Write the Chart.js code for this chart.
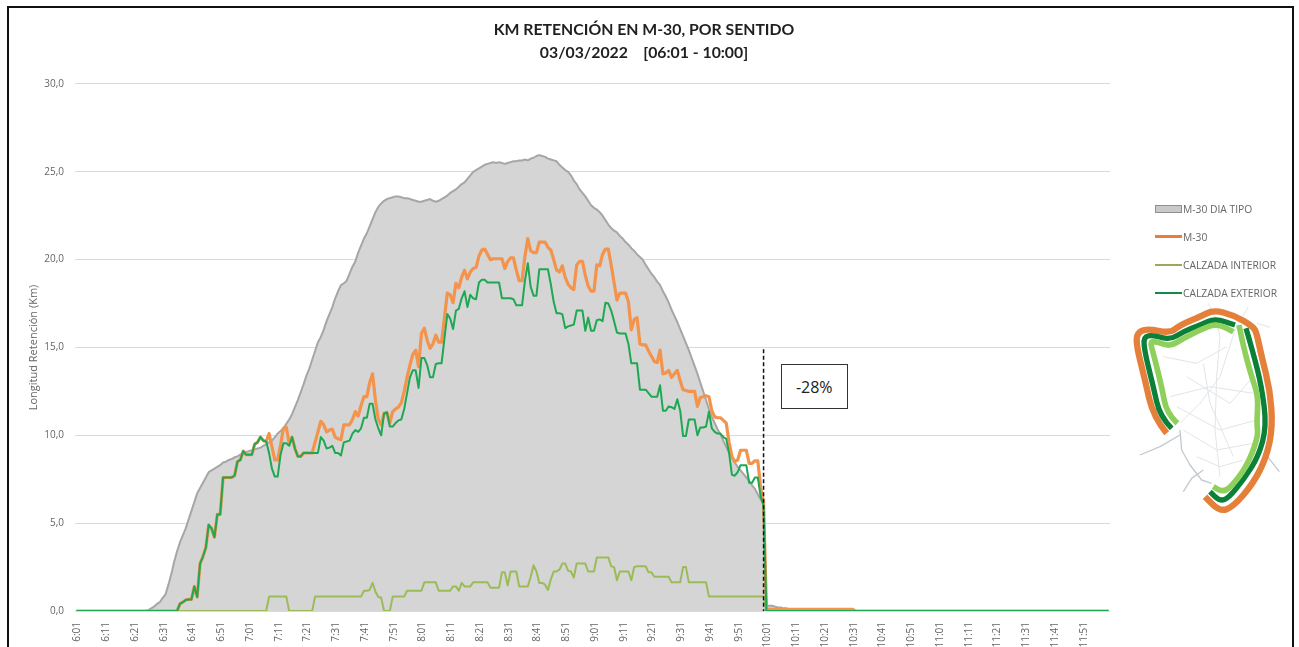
<!DOCTYPE html>
<html lang="es"><head><meta charset="utf-8">
<style>
html,body{margin:0;padding:0;background:#fff;width:1299px;height:647px;overflow:hidden}
#frame{position:absolute;left:7px;top:6px;width:1283px;height:650px;border:2.5px solid #111;box-sizing:content-box}
canvas{position:absolute;left:0;top:0}
#legend{position:absolute;left:1155px;top:200px;font:10.3px "Open Sans",sans-serif;color:#666}
.lg{position:absolute;left:0;white-space:nowrap;height:18px;line-height:18px;width:130px}
.lg i{position:absolute;left:0;width:27px;display:block;box-sizing:border-box}
.lg span{position:absolute;left:28px;top:0}
#box{position:absolute;left:781px;top:364px;width:64.5px;height:42.5px;border:1.5px solid #333;background:#fff;font:16px "Open Sans",sans-serif;color:#222;text-align:center;line-height:44px}
#map{position:absolute;left:1120px;top:190px}
</style>
<script src="https://cdn.jsdelivr.net/npm/chart.js@4/dist/chart.umd.min.js"></script>
</head><body>
<div id="frame"></div>
<canvas id="c" width="1299" height="647"></canvas>
<div id="legend"></div>
<div id="box">-28%</div>
<svg id="map" width="179" height="330" viewBox="0 0 537 990" fill="none" stroke-linejoin="round" stroke-linecap="butt">
<g stroke="#e1e4e8" stroke-width="3">
<polyline points="265,340 285,380 300,440 290,560 285,720 300,860"/>
<polyline points="385,350 365,385 345,420 300,560 240,640 180,700"/>
<polyline points="410,400 450,412"/>
<polyline points="130,500 230,520 320,470"/>
<polyline points="150,620 270,590 400,610"/>
<polyline points="170,650 300,720 410,690"/>
<polyline points="190,720 290,780 400,760"/>
<polyline points="250,520 270,640 340,800"/>
<polyline points="200,560 330,640 400,560"/>
<polyline points="230,800 300,830 370,810"/>
</g>
<g stroke="#c3c9d0" stroke-width="4">
<polyline points="180,720 185,780 210,825 245,870 275,880"/>
<polyline points="60,795 120,770 180,735"/>
<polyline points="190,905 215,865 250,840"/>
<polyline points="435,790 478,845"/>
</g>
<path id="mO" stroke="#E5803A" stroke-width="19"/>
<path id="mD1" stroke="#0A8038" stroke-width="16"/>
<path id="mD2" stroke="#0A8038" stroke-width="16"/>
<path id="mL1" stroke="#8FCF5B" stroke-width="17"/>
<path id="mL2" stroke="#8FCF5B" stroke-width="17"/>
</svg>
<script>
const titleLines = ['KM RETENCIÓN EN M-30, POR SENTIDO', '03/03/2022    [06:01 - 10:00]'];
const yAxisTitle = 'Longitud Retención (Km)';
const cutOffTime = '10:00';
const cutOffTop = 14.9;
const seriesNames = ['M-30 DIA TIPO', 'M-30', 'CALZADA INTERIOR', 'CALZADA EXTERIOR'];

const minutes = [];
for (let h = 6; h < 12; h++) for (let mm = 0; mm < 60; mm++) minutes.push(h + ':' + String(mm).padStart(2, '0'));
const categories = minutes.slice(1).concat(['12:00']);

const diaTipo = [
0,0,0,0,0,0,0,0,0,0,
0,0,0,0,0,0,0,0,0,0,
0,0,0,0,0,.05,.15,.25,.4,.5,
.75,.95,1.5,2.1,2.8,3.4,3.9,4.3,4.7,5.2,
5.7,6.2,6.7,7.0,7.3,7.6,7.9,8.0,8.1,8.2,
8.3,8.45,8.5,8.6,8.65,8.75,8.8,8.9,9.0,9.05,
9.1,9.15,9.2,9.25,9.3,9.4,9.5,9.6,9.7,9.9,
10.1,10.25,10.4,10.65,10.9,11.2,11.6,12.0,12.45,12.9,
13.4,13.8,14.3,14.8,15.3,15.6,16.0,16.5,16.9,17.3,
17.8,18.2,18.55,18.65,18.8,19.2,19.6,19.9,20.4,20.8,
21.2,21.5,21.9,22.3,22.7,23.0,23.2,23.35,23.45,23.5,
23.55,23.6,23.6,23.55,23.5,23.5,23.45,23.4,23.35,23.3,
23.3,23.35,23.4,23.45,23.35,23.3,23.35,23.45,23.55,23.65,
23.8,23.9,24.0,24.15,24.3,24.4,24.6,24.8,25.0,25.1,
25.2,25.3,25.4,25.45,25.5,25.55,25.5,25.55,25.5,25.45,
25.5,25.55,25.6,25.6,25.65,25.65,25.7,25.65,25.75,25.8,
25.9,25.95,25.9,25.85,25.75,25.7,25.65,25.6,25.4,25.25,
25.1,25.0,24.8,24.5,24.3,24.0,23.8,23.6,23.35,23.1,
22.95,22.85,22.7,22.5,22.25,22.0,21.8,21.65,21.55,21.35,
21.2,21.0,20.85,20.65,20.5,20.3,20.15,20.0,19.7,19.45,
19.2,19.0,18.75,18.55,18.2,17.9,17.55,17.15,16.8,16.45,
16.05,15.65,15.25,14.85,14.4,13.95,13.5,13.0,12.5,12.0,
11.5,11.05,10.7,10.35,10.05,9.7,9.35,9.0,8.75,8.45,
8.2,8.0,7.8,7.6,7.4,7.15,6.95,6.65,6.35,6.1,
.3,.3,.3,.25,.2,.2,.15,.15,.1,.1,
.1,.1,.1,.1,.1,.1,.1,.1,.1,.1,
.1,.1,.1,.1,.1,.1,.1,.1,.1,.1,
.1,0,0,0,0,0,0,0,0,0,
0,0,0,0,0,0,0,0,0,0,
0,0,0,0,0,0,0,0,0,0,
0,0,0,0,0,0,0,0,0,0,
0,0,0,0,0,0,0,0,0,0,
0,0,0,0,0,0,0,0,0,0,
0,0,0,0,0,0,0,0,0,0,
0,0,0,0,0,0,0,0,0,0,
0,0,0,0,0,0,0,0,0,0];

const m30 = [
0,0,0,0,0,0,0,0,0,0,
0,0,0,0,0,0,0,0,0,0,
0,0,0,0,0,0,0,0,0,0,
0,0,0,0,0,0,.4,.5,.63,.66,
.66,1.4,.8,2.7,3.1,3.6,4.9,4.7,4.2,5.5,
5.5,7.6,7.6,7.6,7.6,7.7,8.5,8.6,9.1,8.9,
8.9,8.9,9.5,9.6,9.9,9.7,9.65,10.1,9.35,8.6,
8.6,9.45,10.4,10.45,9.55,9.9,9.25,8.8,8.8,9,
9,9,9,9.6,10.2,10.8,10.6,10.2,10.3,10.35,
9.9,9.8,9.75,10.6,10.6,10.6,10.9,11.35,11.1,11.7,
12.2,12.2,13.0,13.5,12.0,10.9,10.6,11.25,11.3,10.7,
11.35,11.5,11.6,11.85,12.5,13.3,14.0,14.6,14.85,13.9,
15.8,16.1,15.4,14.95,15.2,15.7,15.3,15.3,16.7,18.1,
18.0,17.55,18.65,18.4,19.0,19.4,18.9,19.3,19.5,19.55,
20.2,20.55,20.6,20.3,20,20.05,20.05,20.05,20.05,19.5,
19.9,20.1,20.1,19.4,18.8,18.8,20.2,21.2,20.5,20.4,
20.4,21.0,21.0,21.0,20.7,20.55,20.0,19.4,19.3,19.65,
19.0,18.6,18.4,18.3,19.7,19.9,19.9,19.1,18.5,18.2,
18.2,19.7,19.65,20.3,20.6,20.6,19.7,18.7,17.7,18.1,
18.1,18.1,17.6,16.0,16.6,16.7,15.2,15.15,15.15,14.8,
14.5,14.2,14.15,14.85,13.5,13.55,13.7,13.3,13.5,13.7,
13.1,12.6,12.55,12.5,12.5,12.5,11.65,12.15,12.2,12.25,
12.2,11.4,11.05,11.0,11.0,10.85,10.7,9.6,8.8,8.5,
8.6,9.15,9.15,9.15,8.4,8.4,8.55,8.55,7.0,6.2,
.1,.1,.1,.1,.1,.1,.1,.1,.1,.1,
.1,.1,.1,.1,.1,.1,.1,.1,.1,.1,
.1,.1,.1,.1,.1,.1,.1,.1,.1,.1,
.1,0,0,0,0,0,0,0,0,0,
0,0,0,0,0,0,0,0,0,0,
0,0,0,0,0,0,0,0,0,0,
0,0,0,0,0,0,0,0,0,0,
0,0,0,0,0,0,0,0,0,0,
0,0,0,0,0,0,0,0,0,0,
0,0,0,0,0,0,0,0,0,0,
0,0,0,0,0,0,0,0,0,0,
0,0,0,0,0,0,0,0,0,0];

const calzadaInterior = [
0,0,0,0,0,0,0,0,0,0,
0,0,0,0,0,0,0,0,0,0,
0,0,0,0,0,0,0,0,0,0,
0,0,0,0,0,0,0,0,0,0,
0,0,0,0,0,0,0,0,0,0,
0,0,0,0,0,0,0,0,0,0,
0,0,0,0,0,0,0,.82,.82,.82,
.82,.82,.82,.82,0,0,0,0,0,0,
0,0,0,.82,.82,.82,.82,.82,.82,.82,
.82,.82,.82,.82,.82,.82,.82,.82,.82,.82,
1.15,1.15,1.2,1.6,1.1,.8,.75,0,0,0,
.82,.82,.82,.82,.82,1.15,1.15,1.15,1.15,1.15,
1.15,1.63,1.63,1.63,1.63,1.63,1.15,1.15,1.15,1.15,
1.15,1.4,1.4,1.15,1.6,1.4,1.4,1.4,1.63,1.63,
1.63,1.63,1.63,1.63,1.33,1.33,1.33,1.33,2.2,2.2,
1.45,2.25,2.25,2.25,1.4,1.4,1.4,1.4,1.95,2.6,
2.25,1.6,1.6,1.5,1.2,1.8,2.25,2.25,2.35,2.7,
2.7,2.3,2.25,1.9,2.7,2.7,2.7,2.7,2.25,2.25,
2.25,3.05,3.05,3.05,3.05,3.05,2.55,2.5,1.75,2.25,
2.25,2.25,2.25,1.75,2.5,2.55,2.55,2.55,2.55,2.2,
2.2,1.95,1.95,1.95,1.95,1.95,1.95,1.63,1.63,1.63,
1.63,2.5,2.5,1.63,1.63,1.63,1.63,1.63,1.63,1.63,
.82,.82,.82,.82,.82,.82,.82,.82,.82,.82,
.82,.82,.82,.82,.82,.82,.82,.82,.82,.82,
0,0,0,0,0,0,0,0,0,0,
0,0,0,0,0,0,0,0,0,0,
0,0,0,0,0,0,0,0,0,0,
0,0,0,0,0,0,0,0,0,0,
0,0,0,0,0,0,0,0,0,0,
0,0,0,0,0,0,0,0,0,0,
0,0,0,0,0,0,0,0,0,0,
0,0,0,0,0,0,0,0,0,0,
0,0,0,0,0,0,0,0,0,0,
0,0,0,0,0,0,0,0,0,0,
0,0,0,0,0,0,0,0,0,0,
0,0,0,0,0,0,0,0,0,0];

const calzadaExterior = [
0,0,0,0,0,0,0,0,0,0,
0,0,0,0,0,0,0,0,0,0,
0,0,0,0,0,0,0,0,0,0,
0,0,0,0,0,0,.4,.5,.63,.66,
.66,1.4,.8,2.7,3.1,3.6,4.9,4.7,4.2,5.5,
5.5,7.6,7.6,7.6,7.6,7.7,8.5,8.6,9.1,8.9,
8.9,8.9,9.5,9.6,9.9,9.7,9.65,9.0,8.1,7.65,
7.65,8.9,9.55,9.55,9.4,9.9,9.25,8.8,8.8,9,
9,9,9,9,9,9.9,9.7,9.25,9.3,9.4,
9.0,9.0,8.85,9.6,9.65,9.7,10.1,10.3,10.2,10.4,
11.0,11.0,11.8,11.8,10.9,10.4,10.0,11.25,11.3,10.5,
10.5,10.7,10.85,10.9,11.5,12.4,13.3,13.7,13.7,12.7,
14.4,14.4,14.0,13.3,13.3,14.06,14.1,14.1,15.5,16.9,
16.65,16.05,17.1,17.2,17.8,18.2,17.3,18.0,17.8,17.75,
18.7,18.85,18.85,18.7,18.7,18.7,18.7,18.7,17.8,17.8,
17.8,17.8,17.75,17.4,17.4,17.4,18.8,19.8,18.45,17.95,
17.95,19.45,19.45,19.45,19.45,18.6,17.6,16.95,16.95,16.9,
16.1,16.2,16.25,16.3,17.1,17.1,17.1,15.95,16.7,15.95,
15.95,16.55,16.6,16.5,17.55,17.5,17.1,16.5,15.85,15.8,
15.8,15.8,15.2,14.1,14.1,14.1,12.6,12.6,12.6,12.4,
12.2,12.2,12.2,12.85,11.4,11.4,11.65,11.6,11.5,12.05,
11.4,9.96,9.96,10.9,10.9,10.9,10,10.45,10.45,10.5,
11.35,10.4,10.2,10.1,10.1,9.9,9.8,9.0,7.75,7.7,
7.9,8.3,8.3,8.3,7.3,7.3,7.6,7.6,6.5,6.0,
0,0,0,0,0,0,0,0,0,0,
0,0,0,0,0,0,0,0,0,0,
0,0,0,0,0,0,0,0,0,0,
0,0,0,0,0,0,0,0,0,0,
0,0,0,0,0,0,0,0,0,0,
0,0,0,0,0,0,0,0,0,0,
0,0,0,0,0,0,0,0,0,0,
0,0,0,0,0,0,0,0,0,0,
0,0,0,0,0,0,0,0,0,0,
0,0,0,0,0,0,0,0,0,0,
0,0,0,0,0,0,0,0,0,0,
0,0,0,0,0,0,0,0,0,0];

const TXT = '#666666';
const cutOffLine = {
  id: 'cutOffLine',
  afterDatasetsDraw(chart) {
    const { x, y } = chart.scales, c = chart.ctx;
    c.save();
    c.strokeStyle = '#111'; c.lineWidth = 1.5; c.setLineDash([4, 2.5]);
    const px = x.getPixelForValue(categories.indexOf(cutOffTime));
    c.beginPath(); c.moveTo(px, y.getPixelForValue(cutOffTop)); c.lineTo(px, y.getPixelForValue(0)); c.stroke();
    c.restore();
  }
};
const centreTitle = {
  id: 'centreTitle',
  afterLayout(chart) { chart.titleBlock.left = 0; chart.titleBlock.right = chart.width - 11; }
};

const chart = new Chart(document.getElementById('c'), {
  type: 'line',
  plugins: [cutOffLine, centreTitle],
  data: {
    labels: categories,
    datasets: [
      { label: seriesNames[2], data: calzadaInterior, borderColor: '#9BBB59', borderWidth: 2, order: 2 },
      { label: seriesNames[1], data: m30, borderColor: '#F4934C', borderWidth: 3.2, order: 3 },
      { label: seriesNames[3], data: calzadaExterior, borderColor: '#1DA851', borderWidth: 2, order: 1 },
      { label: seriesNames[0], data: diaTipo, borderColor: '#A6A6A6', backgroundColor: '#D5D5D5', borderWidth: 2, fill: 'origin', order: 4 }
    ]
  },
  options: {
    responsive: false, animation: false,
    elements: { point: { radius: 0 }, line: { tension: 0, borderJoinStyle: 'round' } },
    layout: { padding: { left: 27, right: 189, top: 0, bottom: 0 } },
    plugins: {
      legend: { display: false },
      tooltip: { enabled: false },
      title: {
        display: true, text: titleLines, color: '#1f1f1f',
        font: { family: 'Lato', size: 15.8, weight: 'bold', lineHeight: 1.455 },
        padding: { top: 18.5, bottom: 19.5 }
      }
    },
    scales: {
      x: {
        offset: true,
        grid: { display: false },
        border: { display: false },
        afterFit(s) { s.height = 36; },
        ticks: {
          autoSkip: false, maxRotation: 90, minRotation: 90, color: TXT, padding: 3, labelOffset: 1,
          font: { family: '"Open Sans"', size: 10 },
          callback(v, i) { return i % 10 === 0 ? categories[i] : null; }
        }
      },
      y: {
        min: 0, max: 30,
        afterFit(s) { s.width = 48; },
        grid: { color: '#DADADA', lineWidth: 1, drawTicks: false },
        border: { display: false },
        title: { display: true, text: yAxisTitle, color: TXT, font: { family: '"Open Sans"', size: 11 }, padding: 0 },
        ticks: {
          stepSize: 5, color: TXT, padding: 11, font: { family: '"Open Sans"', size: 10 },
          callback(v) { return v.toFixed(1).replace('.', ','); }
        }
      }
    }
  }
});

const legendRows = [
  { name: seriesNames[0], top: 0, css: 'top:5px;height:8px;background:#C9C9C9;border:1px solid #8f8f8f' },
  { name: seriesNames[1], top: 28, css: 'top:7px;height:3px;background:#ED7D31' },
  { name: seriesNames[2], top: 56, css: 'top:8px;height:2px;background:#9BA85C' },
  { name: seriesNames[3], top: 84, css: 'top:8px;height:2px;background:#138A4A' }
];
document.getElementById('legend').innerHTML = legendRows.map(r =>
  `<div class="lg" style="top:${r.top}px"><i style="${r.css}"></i><span>${r.name}</span></div>`).join('');

function smoothPath(p) {
  let d = `M${p[0]},${p[1]}`;
  for (let i = 2; i < p.length - 2; i += 2) {
    d += ` Q${p[i]},${p[i + 1]} ${(p[i] + p[i + 2]) / 2},${(p[i + 1] + p[i + 3]) / 2}`;
  }
  return d + ` L${p[p.length - 2]},${p[p.length - 1]}`;
}
const mapRings = {
  mO: [140,730,100,680,75,570,50,470,50,430,80,415,150,430,180,405,240,380,280,360,340,375,400,410,410,430,425,500,450,600,458,710,440,800,400,880,340,950,300,965,255,920],
  mD1: [155,715,120,680,100,590,75,490,70,440,100,435,150,450,190,425,240,405,285,385,345,405],
  mD2: [378,415,400,490,425,590,440,710,415,800,370,870,320,930,295,930,270,905],
  mL1: [172,700,140,670,125,590,100,490,90,455,110,455,150,470,190,445,240,420,290,400,340,425],
  mL2: [357,405,370,470,395,560,415,620,410,700,415,740,380,830,330,895,305,905,280,890]
};
for (const id in mapRings) document.getElementById(id).setAttribute('d', smoothPath(mapRings[id]));
</script>
</body></html>
